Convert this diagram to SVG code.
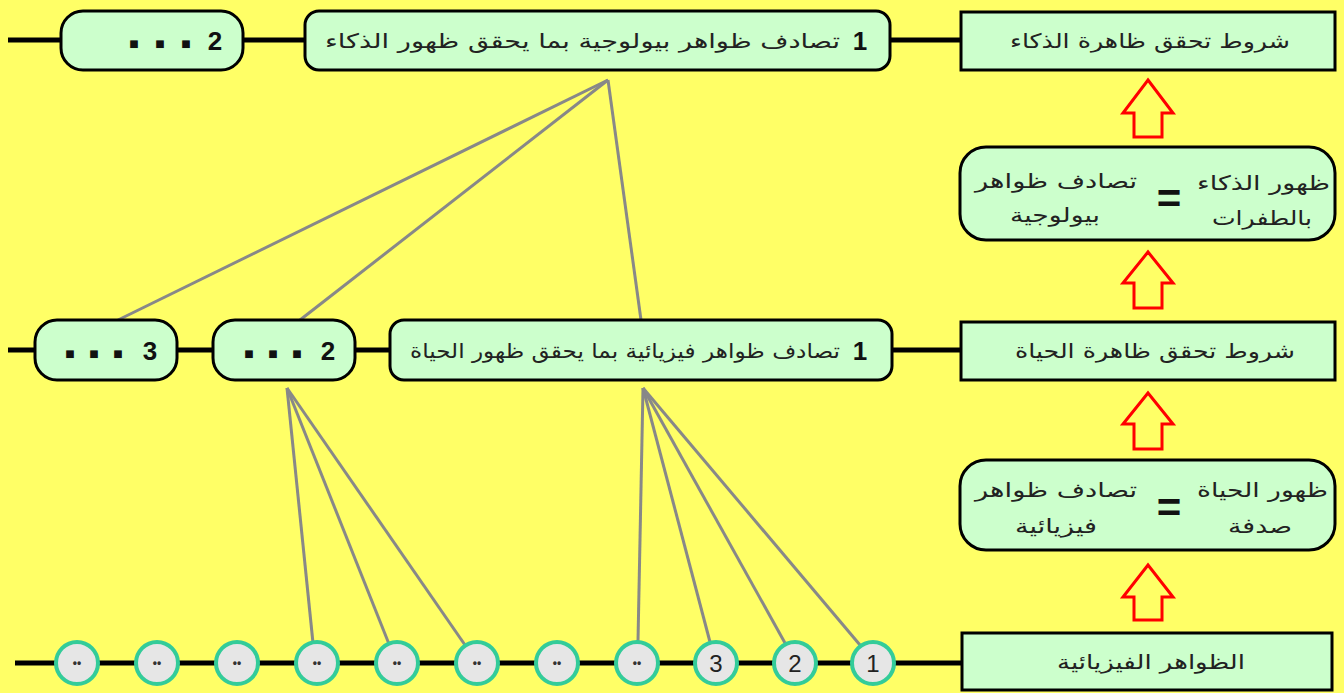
<svg xmlns="http://www.w3.org/2000/svg" width="1344" height="693" viewBox="0 0 1344 693">
<defs>
<style>
.bg{fill:#ffff66}
.box{fill:#ccffcc;stroke:#000;stroke-width:3}
.bus{stroke:#000;stroke-width:5;fill:none}
.link{stroke:#888;stroke-width:3;fill:none}
.circ{fill:#e6e6e6;stroke:#33cc99;stroke-width:4}
.arrow{fill:none;stroke:#ff0000;stroke-width:3}
.ar{font-family:"DejaVu Sans",sans-serif;font-size:20px;fill:#222}
.num{font-family:"Liberation Sans",Arial,sans-serif;font-weight:bold;font-size:26px;fill:#111}
.dots{font-family:"DejaVu Sans",sans-serif;font-size:10px;fill:#111;text-anchor:middle}
.cn{font-family:"Liberation Sans",Arial,sans-serif;font-size:24px;fill:#222;text-anchor:middle}
.cd{font-family:"Liberation Sans",Arial,sans-serif;font-size:12px;font-weight:bold;fill:#333;text-anchor:middle}
.eq{font-family:"Liberation Sans",Arial,sans-serif;font-size:42px;font-weight:bold;fill:#111;text-anchor:middle}
</style>
</defs>
<rect class="bg" x="0" y="0" width="1344" height="693"/>
<g id="connectors">
<line class="bus" x1="8" y1="40" x2="962" y2="40"/>
<line class="bus" x1="8" y1="350" x2="962" y2="350"/>
<line class="bus" x1="15" y1="663" x2="962" y2="663"/>
<line class="link" x1="608" y1="80" x2="118" y2="320"/>
<line class="link" x1="608" y1="80" x2="300" y2="320"/>
<line class="link" x1="608" y1="80" x2="641" y2="320"/>
<line class="link" x1="287" y1="388" x2="313" y2="643"/>
<line class="link" x1="287" y1="388" x2="389" y2="644"/>
<line class="link" x1="287" y1="388" x2="465" y2="645"/>
<line class="link" x1="643" y1="388" x2="638" y2="641"/>
<line class="link" x1="643" y1="388" x2="710" y2="642"/>
<line class="link" x1="643" y1="388" x2="785" y2="643"/>
<line class="link" x1="643" y1="388" x2="860" y2="645"/>
<path class="arrow" d="M1148 80 L1173 113 L1162 113 L1162 137 L1134 137 L1134 113 L1123 113 Z"/>
<path class="arrow" d="M1148 252 L1173 283 L1162 283 L1162 308 L1134 308 L1134 283 L1123 283 Z"/>
<path class="arrow" d="M1148 393 L1173 424 L1162 424 L1162 449 L1134 449 L1134 424 L1123 424 Z"/>
<path class="arrow" d="M1148 565 L1173 597 L1162 597 L1162 620 L1134 620 L1134 597 L1123 597 Z"/>
</g>
<g id="top2">
<rect class="box" x="61" y="11" width="182" height="59" rx="22"/>
<text class="num" x="215" y="50" text-anchor="middle">2</text>
<text class="dots" x="134 160 186" y="47">■■■</text>
</g>
<g id="top1">
<rect class="box" x="305" y="11" width="585" height="59" rx="14"/>
<text class="num" x="860" y="50" text-anchor="middle">1</text>
<text class="ar" x="840" y="48" text-anchor="end" textLength="515" lengthAdjust="spacingAndGlyphs">تصادف ظواهر بيولوجية بما يحقق ظهور الذكاء</text>
</g>
<g id="condIntel">
<rect class="box" x="961" y="12" width="374" height="58"/>
<text class="ar" x="1290" y="48" text-anchor="end" textLength="280" lengthAdjust="spacingAndGlyphs">شروط تحقق ظاهرة الذكاء</text>
</g>
<g id="eqIntel">
<rect class="box" x="960" y="147" width="375" height="93" rx="26"/>
<text class="ar" x="1330" y="190" text-anchor="end" textLength="133" lengthAdjust="spacingAndGlyphs">ظهور الذكاء</text>
<text class="ar" x="1312" y="225" text-anchor="end" textLength="100" lengthAdjust="spacingAndGlyphs">بالطفرات</text>
<text class="eq" x="1169" y="213">=</text>
<text class="ar" x="1137" y="188" text-anchor="end" textLength="162" lengthAdjust="spacingAndGlyphs">تصادف ظواهر</text>
<text class="ar" x="1100" y="222" text-anchor="end" textLength="90" lengthAdjust="spacingAndGlyphs">بيولوجية</text>
</g>
<g id="mid3">
<rect class="box" x="35" y="320" width="142" height="60" rx="22"/>
<text class="num" x="150" y="360" text-anchor="middle">3</text>
<text class="dots" x="70 94 118" y="357">■■■</text>
</g>
<g id="mid2">
<rect class="box" x="213" y="320" width="142" height="60" rx="22"/>
<text class="num" x="328" y="360" text-anchor="middle">2</text>
<text class="dots" x="249 273 297" y="357">■■■</text>
</g>
<g id="mid1">
<rect class="box" x="390" y="320" width="502" height="60" rx="14"/>
<text class="num" x="860" y="360" text-anchor="middle">1</text>
<text class="ar" x="840" y="358" text-anchor="end" textLength="430" lengthAdjust="spacingAndGlyphs">تصادف ظواهر فيزيائية بما يحقق ظهور الحياة</text>
</g>
<g id="condLife">
<rect class="box" x="961" y="322" width="374" height="58"/>
<text class="ar" x="1295" y="358" text-anchor="end" textLength="280" lengthAdjust="spacingAndGlyphs">شروط تحقق ظاهرة الحياة</text>
</g>
<g id="eqLife">
<rect class="box" x="960" y="460" width="375" height="90" rx="26"/>
<text class="ar" x="1328" y="497" text-anchor="end" textLength="131" lengthAdjust="spacingAndGlyphs">ظهور الحياة</text>
<text class="ar" x="1292" y="533" text-anchor="end" textLength="64" lengthAdjust="spacingAndGlyphs">صدفة</text>
<text class="eq" x="1169" y="522">=</text>
<text class="ar" x="1137" y="497" text-anchor="end" textLength="162" lengthAdjust="spacingAndGlyphs">تصادف ظواهر</text>
<text class="ar" x="1097" y="533" text-anchor="end" textLength="82" lengthAdjust="spacingAndGlyphs">فيزيائية</text>
</g>
<g id="physical">
<rect class="box" x="962" y="633" width="370" height="57"/>
<text class="ar" x="1245" y="669" text-anchor="end" textLength="188" lengthAdjust="spacingAndGlyphs">الظواهر الفيزيائية</text>
</g>
<g id="c11"><circle class="circ" cx="77" cy="663" r="21"/><text class="cd" x="77" y="667">••</text></g>
<g id="c10"><circle class="circ" cx="157" cy="663" r="21"/><text class="cd" x="157" y="667">••</text></g>
<g id="c9"><circle class="circ" cx="237" cy="663" r="21"/><text class="cd" x="237" y="667">••</text></g>
<g id="c8"><circle class="circ" cx="317" cy="663" r="21"/><text class="cd" x="317" y="667">••</text></g>
<g id="c7"><circle class="circ" cx="397" cy="663" r="21"/><text class="cd" x="397" y="667">••</text></g>
<g id="c6"><circle class="circ" cx="477" cy="663" r="21"/><text class="cd" x="477" y="667">••</text></g>
<g id="c5"><circle class="circ" cx="557" cy="663" r="21"/><text class="cd" x="557" y="667">••</text></g>
<g id="c4"><circle class="circ" cx="637" cy="663" r="21"/><text class="cd" x="637" y="667">••</text></g>
<g id="c3"><circle class="circ" cx="716" cy="663" r="21"/><text class="cn" x="716" y="672">3</text></g>
<g id="c2"><circle class="circ" cx="795" cy="663" r="21"/><text class="cn" x="795" y="672">2</text></g>
<g id="c1"><circle class="circ" cx="873" cy="663" r="21"/><text class="cn" x="873" y="672">1</text></g>
</svg>
